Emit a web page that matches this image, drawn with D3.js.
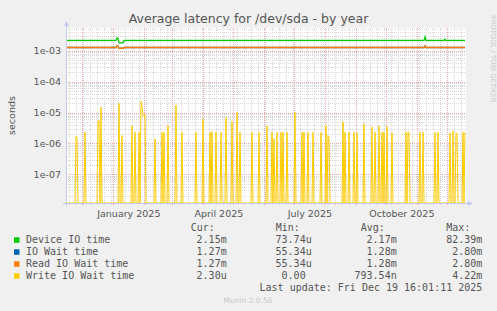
<!DOCTYPE html>
<html>
<head>
<meta charset="utf-8">
<script src="https://cdn.jsdelivr.net/npm/d3@7"></script>
<style>
  body { margin: 0; background: #f0f0f0; }
  svg { display: block; }
  text { font-family: "DejaVu Sans", sans-serif; fill: #555; }
  .mono { font-family: "DejaVu Sans Mono", monospace; font-size: 10px; white-space: pre; }
</style>
</head>
<body>
<svg width="497" height="311"></svg>
<script>
// time window of the year graph (400 days ending at last update)
const endDate = new Date(Date.UTC(2025, 11, 19, 16, 1, 11))
const startDate = new Date(endDate - 400 * 864e5)

const seriesNames = ['Device IO time', 'IO Wait time', 'Read IO Wait time', 'Write IO Wait time']
const seriesColors = ['#00cc00', '#0066b3', '#ff8000', '#ffcc00']

// breakpoints: day (since start), value in seconds
const deviceDays = [0, 50, 51, 52, 53, 57, 58, 358, 359, 360, 378, 379, 380, 399]
const deviceVals = [2.15e-3, 2.15e-3, 2.6e-3, 2.5e-3, 1.8e-3, 1.8e-3, 2.15e-3, 2.15e-3, 2.8e-3, 2.15e-3, 2.15e-3, 2.35e-3, 2.15e-3, 2.15e-3]
const ioWaitDays = [0, 50, 51, 52, 53, 57, 58, 358, 359, 360, 399]
const ioWaitVals = [1.27e-3, 1.27e-3, 1.45e-3, 1.4e-3, 1.2e-3, 1.2e-3, 1.27e-3, 1.27e-3, 1.42e-3, 1.27e-3, 1.27e-3]
const readVals = ioWaitVals

// write wait: zero most days, spikes on these days
const writeDays = [10, 11, 19, 32, 33, 35, 53, 56, 66, 69, 73, 75, 76, 77, 78, 79, 89, 96, 98, 102, 110, 116, 130, 137,
  144, 146, 150, 155, 160, 166, 171, 174, 186, 193, 201, 206, 208, 211, 215, 217, 221, 229, 236, 238, 242, 247, 255,
  260, 262, 263, 277, 279, 283, 288, 291, 298, 306, 309, 313, 316, 318, 321, 326, 340, 342, 343, 354, 357, 369, 372,
  384, 387, 390, 391, 397, 399]
const writeVals = [1.7e-6, 1.5e-6, 2.3e-6, 5.3e-6, 5.5e-6, 1.5e-5, 2e-5, 1.8e-6, 3.7e-6, 2.3e-6, 2.3e-6, 2.3e-5, 1.6e-5, 8e-6, 7.5e-6, 8.5e-6,
  1.4e-6, 2.3e-6, 2.3e-6, 3.7e-6, 1.7e-5, 2.3e-6, 2.3e-6, 6.1e-6,
  2.3e-6, 2.4e-6, 2.3e-6, 2.3e-6, 7e-6, 5e-6, 1e-5, 2.3e-6, 2.3e-6, 2.3e-6, 3.7e-6, 2.3e-6, 1.4e-6, 2.3e-6, 2.3e-6, 2.3e-6, 2.3e-6, 1e-5, 2.3e-6, 2.3e-6, 2.3e-6, 2.3e-6, 2.3e-6,
  3.7e-6, 1.8e-6, 1.5e-6, 5e-6, 2.3e-6, 2.3e-6, 2.3e-6, 2.2e-6, 4.3e-6, 3.4e-6, 2.3e-6, 3.7e-6, 2.3e-6, 2.3e-6, 3.5e-6, 2.2e-6, 2.3e-6, 2.3e-6, 2.3e-6, 2.3e-6, 2.3e-6, 2.3e-6, 2.3e-6,
  2.2e-6, 2.5e-6, 2.2e-6, 2.0e-6, 2.3e-6, 2.3e-6]

const yTicks = [1e-3, 1e-4, 1e-5, 1e-6, 1e-7]
const xLabelDates = ['2025-01-16', '2025-04-16', '2025-07-16', '2025-10-16']

const legendHead = ['Cur:', 'Min:', 'Avg:', 'Max:']
const curVals = ['2.15m', '1.27m', '1.27m', '2.30u']
const minVals = ['73.74u', '55.34u', '55.34u', '0.00 ']
const avgVals = ['2.17m', '1.28m', '1.28m', '793.54n']
const maxVals = ['82.39m', '2.80m', '2.80m', '4.22m']

const plot = {left: 66, top: 28, width: 400, height: 175}

const dayToDate = d => new Date(+startDate + d * 864e5)

const xScale = d3.scaleUtc()
                 .domain([startDate, endDate])
                 .range([plot.left, plot.left + plot.width])
const yScale = d3.scaleLog()
                 .domain([1.18e-8, 5.43e-3])
                 .range([plot.top + plot.height, plot.top])
                 .clamp(true)
const yPos = v => v > 0 ? yScale(v) : yScale.range()[0]

const svg = d3.select('svg')
svg.append('rect').attr('width', 497).attr('height', 311).attr('fill', '#f0f0f0')
svg.append('rect')
   .attr('x', plot.left).attr('y', plot.top)
   .attr('width', plot.width).attr('height', plot.height)
   .attr('fill', '#fff')

// title
svg.append('text')
   .attr('x', 248.5).attr('y', 22.5)
   .attr('text-anchor', 'middle')
   .style('font-size', '12.5px')
   .text('Average latency for /dev/sda - by year')

svg.append('text')
   .attr('transform', 'translate(490.5,15) rotate(90)')
   .style('font-size', '6.8px').style('fill', '#c8c8c8')
   .text('RRDTOOL / TOBI OETIKER')

svg.append('text')
   .attr('transform', `translate(14.5,${plot.top + plot.height / 2}) rotate(-90)`)
   .attr('text-anchor', 'middle')
   .style('font-size', '9.5px')
   .text('seconds')

// grid
const grid = svg.append('g')
const [yLo, yHi] = yScale.domain()
const minorY = []
for (let e = -9; e <= -2; e++) {
  for (let m = 2; m <= 9; m++) {
    const v = m * Math.pow(10, e)
    if (v > yLo && v < yHi) minorY.push(v)
  }
}
grid.selectAll('.ymin').data(minorY).enter().append('line')
    .attr('x1', plot.left).attr('x2', plot.left + plot.width)
    .attr('y1', d => Math.round(yScale(d)) + 0.5).attr('y2', d => Math.round(yScale(d)) + 0.5)
    .attr('stroke', '#d8d8d8').attr('stroke-dasharray', '1,1')

const weeks = d3.utcMonday.range(startDate, endDate)
grid.selectAll('.xmin').data(weeks).enter().append('line')
    .attr('x1', d => Math.round(xScale(d)) + 0.5).attr('x2', d => Math.round(xScale(d)) + 0.5)
    .attr('y1', plot.top).attr('y2', plot.top + plot.height + 2)
    .attr('stroke', '#d8d8d8').attr('stroke-dasharray', '1,1')

grid.selectAll('.ymaj').data(yTicks).enter().append('line')
    .attr('x1', plot.left).attr('x2', plot.left + plot.width)
    .attr('y1', d => Math.round(yScale(d)) + 0.5).attr('y2', d => Math.round(yScale(d)) + 0.5)
    .attr('stroke', '#eaa8a8').attr('stroke-dasharray', '1,1')

const months = d3.utcMonth.range(startDate, endDate)
grid.selectAll('.xmaj').data(months).enter().append('line')
    .attr('x1', d => Math.round(xScale(d)) + 0.5).attr('x2', d => Math.round(xScale(d)) + 0.5)
    .attr('y1', plot.top).attr('y2', plot.top + plot.height + 3)
    .attr('stroke', '#eaa8a8').attr('stroke-dasharray', '1,1')

// axes labels
svg.append('g')
   .attr('transform', `translate(${plot.left - 5},0)`)
   .call(d3.axisLeft(yScale).tickValues(yTicks).tickSize(0).tickPadding(0)
           .tickFormat(d => '1e-' + String(-Math.round(Math.log10(d))).padStart(2, '0')))
   .call(g => g.select('.domain').remove())
   .selectAll('text').style('font-size', '9.5px').style('fill', '#555')
   .style('font-family', '"DejaVu Sans", sans-serif')

svg.append('g')
   .attr('transform', `translate(0,${plot.top + plot.height})`)
   .call(d3.axisBottom(xScale).tickValues(xLabelDates.map(d => new Date(d + 'T00:00:00Z')))
           .tickSize(0).tickPadding(6.8).tickFormat(d3.utcFormat('%B %Y')))
   .call(g => g.select('.domain').remove())
   .selectAll('text').style('font-size', '9.5px').style('fill', '#555')
   .style('font-family', '"DejaVu Sans", sans-serif')

// series
const line = d3.line().x(d => xScale(d.date)).y(d => yPos(d.v))
const toPts = (days, vals) => days.map((d, i) => ({date: dayToDate(d), v: vals[i]}))

const writeSeries = d3.range(0, 400).map(d => {
  const i = writeDays.indexOf(d)
  return {date: dayToDate(d), v: i >= 0 ? writeVals[i] : 0}
})

const lines = [
  {pts: toPts(deviceDays, deviceVals), color: seriesColors[0], w: 1.3},
  {pts: toPts(ioWaitDays, ioWaitVals), color: seriesColors[1], w: 1.3},
  {pts: toPts(ioWaitDays, readVals), color: seriesColors[2], w: 1.3},
  {pts: writeSeries, color: seriesColors[3], w: 1}
]
svg.append('g').selectAll('path').data(lines).enter().append('path')
   .attr('d', d => line(d.pts))
   .attr('fill', 'none')
   .attr('stroke', d => d.color)
   .attr('stroke-width', d => d.w)

// axis lines + arrows
const axisColor = '#c4c8f0'
svg.append('line').attr('x1', plot.left + 0.5).attr('x2', plot.left + 0.5)
   .attr('y1', plot.top - 3).attr('y2', plot.top + plot.height + 3).attr('stroke', axisColor)
svg.append('line').attr('x1', plot.left - 3).attr('x2', plot.left + plot.width + 3)
   .attr('y1', plot.top + plot.height + 0.5).attr('y2', plot.top + plot.height + 0.5).attr('stroke', axisColor)
svg.append('path')
   .attr('d', `M${plot.left - 2},${plot.top - 2}L${plot.left + 0.5},${plot.top - 7}L${plot.left + 3},${plot.top - 2}Z`)
   .attr('fill', axisColor)
svg.append('path')
   .attr('d', `M${plot.left + plot.width + 2},${plot.top + plot.height - 2}L${plot.left + plot.width + 7},${plot.top + plot.height + 0.5}L${plot.left + plot.width + 2},${plot.top + plot.height + 3}Z`)
   .attr('fill', axisColor)

// legend
const leg = svg.append('g')
const colX = [226.7, 311.7, 396.7, 482.3]
leg.selectAll('.head').data(legendHead).enter().append('text')
   .attr('class', 'mono')
   .attr('x', (d, i) => colX[i] - 36)
   .attr('y', 231.3)
   .text(d => d)
const rowY = i => 243.3 + i * 12
leg.selectAll('rect').data(seriesNames).enter().append('rect')
   .attr('x', 14).attr('y', (d, i) => rowY(i) - 6).attr('width', 5.5).attr('height', 5.5)
   .attr('fill', (d, i) => seriesColors[i])
leg.selectAll('.name').data(seriesNames).enter().append('text')
   .attr('class', 'mono').attr('x', 26).attr('y', (d, i) => rowY(i)).text(d => d)
;[curVals, minVals, avgVals, maxVals].forEach((col, c) => {
  leg.selectAll('.c' + c).data(col).enter().append('text')
     .attr('class', 'mono').attr('text-anchor', 'end')
     .attr('x', colX[c]).attr('y', (d, i) => rowY(i)).text(d => d)
})
leg.append('text').attr('class', 'mono').attr('text-anchor', 'end')
   .attr('x', 482.3).attr('y', 291.3)
   .text('Last update: Fri Dec 19 16:01:11 2025')

svg.append('text')
   .attr('x', 248).attr('y', 303)
   .attr('text-anchor', 'middle')
   .style('font-size', '7.5px').style('fill', '#c8c8c8')
   .text('Munin 2.0.56')
</script>
</body>
</html>
